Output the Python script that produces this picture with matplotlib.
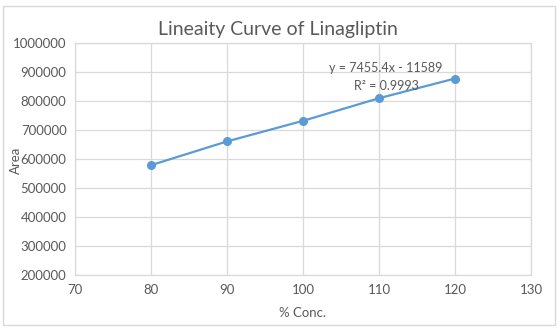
import matplotlib.pyplot as plt
from matplotlib.patches import Rectangle
from matplotlib.ticker import FixedFormatter

# data
conc = [80, 90, 100, 110, 120]
area = [580000, 662000, 733000, 811000, 879000]
x_ticks = [70, 80, 90, 100, 110, 120, 130]
y_ticks = [200000, 300000, 400000, 500000, 600000, 700000, 800000, 900000, 1000000]

plt.rcParams['font.family'] = ['Lato', 'DejaVu Sans']
txt = '#595959'
grid = '#D9D9D9'
blue = '#5B9BD5'

fig = plt.figure(figsize=(5.59, 3.29), dpi=100)
ax = fig.add_axes([0.134, 0.163, 0.816, 0.705])

ax.plot(conc, area, color=blue, lw=1.6, marker='o', ms=5.5, zorder=3)

ax.set_xlim(70, 130)
ax.set_ylim(200000, 1000000)
ax.set_xticks(x_ticks)
ax.set_yticks(y_ticks)
ax.yaxis.set_major_formatter(FixedFormatter([str(v) for v in y_ticks]))
ax.grid(True, color=grid, lw=0.9)
ax.set_axisbelow(True)
for s in ax.spines.values():
    s.set_color(grid)
    s.set_linewidth(0.9)
ax.tick_params(length=0, labelsize=9.5, colors=txt, pad=6)

ax.text(0.682, 0.894, 'y = 7455.4x - 11589', transform=ax.transAxes,
        ha='center', va='center', fontsize=9, color=txt)
ax.text(0.682, 0.816, 'R² = 0.9993', transform=ax.transAxes,
        ha='center', va='center', fontsize=9, color=txt)

fig.text(0.498, 0.909, 'Lineaity Curve of Linagliptin', ha='center', va='center',
         fontsize=14, color=txt)
fig.text(0.029, 0.514, 'Area', rotation=90, ha='center', va='center',
         fontsize=9.5, color=txt)
fig.text(0.542, 0.049, '% Conc.', ha='center', va='center', fontsize=9.5, color=txt)

fig.patches.append(Rectangle((0.006, 0.012), 0.987, 0.97, transform=fig.transFigure,
                             fill=False, edgecolor=grid, lw=1))

fig.savefig('out.png', dpi=100)
